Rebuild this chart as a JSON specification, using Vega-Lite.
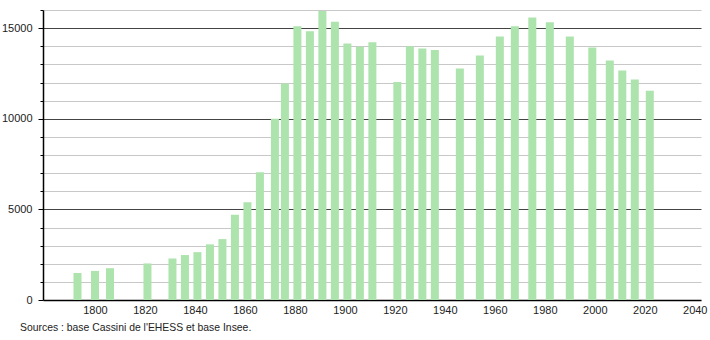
{
  "$schema": "https://vega.github.io/schema/vega-lite/v6.json",
  "width": 658,
  "height": 290,
  "autosize": "none",
  "padding": {"left": 43, "top": 10, "right": 9, "bottom": 40},
  "background": "white",
  "config": {"view": {"stroke": null}, "font": "Liberation Sans"},
  "title": {
    "text": "Sources : base Cassini de l'EHESS et base Insee.",
    "orient": "bottom",
    "anchor": "start",
    "frame": "group",
    "dx": -23,
    "offset": 8,
    "fontSize": 10.4,
    "fontWeight": "normal",
    "color": "#222",
    "font": "Liberation Sans"
  },
  "data": {
    "values": [
      {"year": 1793, "population": 1490},
      {"year": 1800, "population": 1605},
      {"year": 1806, "population": 1755},
      {"year": 1821, "population": 2015},
      {"year": 1831, "population": 2290},
      {"year": 1836, "population": 2480},
      {"year": 1841, "population": 2640},
      {"year": 1846, "population": 3070},
      {"year": 1851, "population": 3360},
      {"year": 1856, "population": 4700},
      {"year": 1861, "population": 5390},
      {"year": 1866, "population": 7050},
      {"year": 1872, "population": 10000},
      {"year": 1876, "population": 11940},
      {"year": 1881, "population": 15100},
      {"year": 1886, "population": 14830},
      {"year": 1891, "population": 15950},
      {"year": 1896, "population": 15350},
      {"year": 1901, "population": 14150},
      {"year": 1906, "population": 13970},
      {"year": 1911, "population": 14220},
      {"year": 1921, "population": 12030},
      {"year": 1926, "population": 14000},
      {"year": 1931, "population": 13880},
      {"year": 1936, "population": 13800},
      {"year": 1946, "population": 12770},
      {"year": 1954, "population": 13490},
      {"year": 1962, "population": 14540},
      {"year": 1968, "population": 15110},
      {"year": 1975, "population": 15590},
      {"year": 1982, "population": 15330},
      {"year": 1990, "population": 14540},
      {"year": 1999, "population": 13930},
      {"year": 2006, "population": 13210},
      {"year": 2011, "population": 12660},
      {"year": 2016, "population": 12160},
      {"year": 2022, "population": 11550}
    ]
  },
  "mark": {"type": "bar", "size": 8, "color": "#ade3ad"},
  "encoding": {
    "x": {
      "field": "year",
      "type": "quantitative",
      "scale": {"domain": [1779.2, 2042.5], "nice": false, "zero": false, "padding": 0},
      "axis": {
        "title": null,
        "values": [1800, 1820, 1840, 1860, 1880, 1900, 1920, 1940, 1960, 1980, 2000, 2020, 2040],
        "format": "d",
        "grid": false,
        "ticks": false,
        "domainColor": "#000",
        "domainWidth": 1.5,
        "labelPadding": 4,
        "labelFontSize": 11,
        "labelColor": "#222",
        "labelFont": "Liberation Sans"
      }
    },
    "y": {
      "field": "population",
      "type": "quantitative",
      "scale": {"domain": [0, 16000], "nice": false},
      "axis": {
        "title": null,
        "values": [0, 1000, 2000, 3000, 4000, 5000, 6000, 7000, 8000, 9000, 10000, 11000, 12000, 13000, 14000, 15000, 16000],
        "labelExpr": "datum.value % 5000 === 0 ? datum.value : ''",
        "grid": true,
        "gridColor": {"condition": {"test": "datum.value % 5000 === 0 && datum.value > 0", "value": "#444"}, "value": "#c8c8c8"},
        "gridWidth": 1,
        "tickColor": "#000",
        "tickSize": {"condition": {"test": "datum.value % 5000 === 0", "value": 5}, "value": 3},
        "domainColor": "#000",
        "domainWidth": 1.5,
        "labelPadding": 6,
        "labelFontSize": 11,
        "labelColor": "#222",
        "labelFont": "Liberation Sans"
      }
    }
  }
}
